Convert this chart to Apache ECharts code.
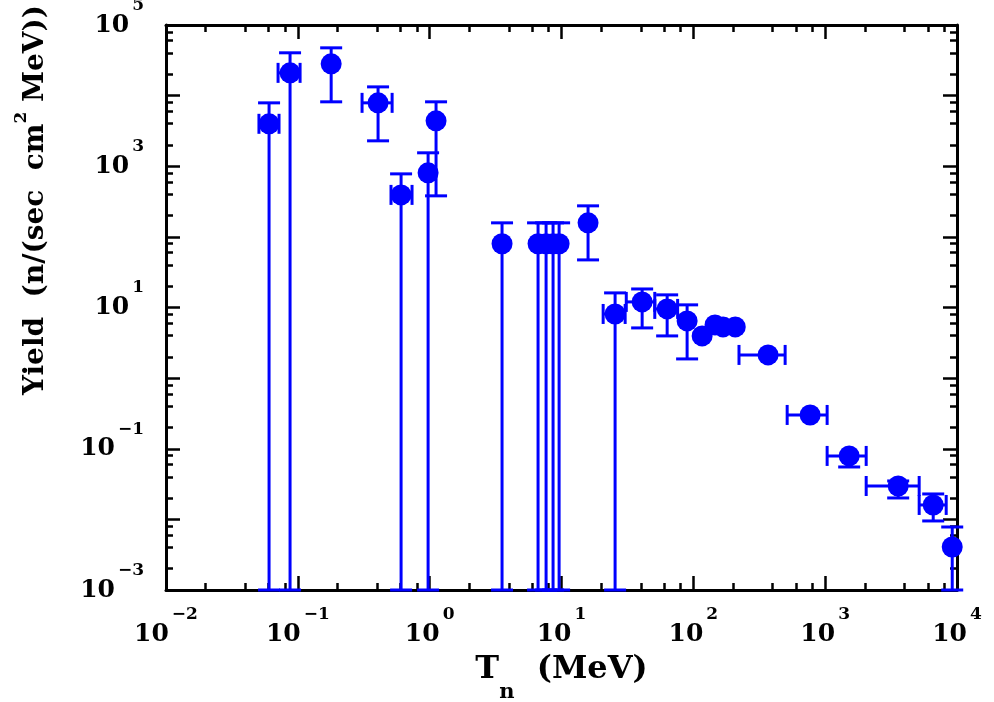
<!DOCTYPE html>
<html>
<head>
<meta charset="utf-8">
<title>Neutron yield</title>
<script src="https://cdn.jsdelivr.net/npm/echarts@6/dist/echarts.min.js"></script>
<style>
  html, body { margin: 0; padding: 0; background: #fff; }
  #main { width: 994px; height: 702px; }
</style>
</head>
<body>
<div id="main"></div>
<script>
// neutron energy (MeV) and yield
var energy   = [0.0605, 0.0873, 0.179, 0.406, 0.607, 0.973, 1.118, 3.54, 6.64, 7.64, 8.63, 9.59, 15.9,
                25.5, 40.9, 63.3, 89.7, 116.6, 146, 168, 208, 369, 769, 1521, 3580, 6600, 9200];
var yieldVal = [3990, 21000, 28200, 7900, 393, 807, 4400, 80, 80, 80, 80, 80, 158,
                8.1, 12.0, 9.55, 6.46, 3.96, 5.67, 5.31, 5.31, 2.13, 0.301, 0.0791, 0.0297, 0.016, 0.00406];
// error bars, null = hidden under the marker, 0.001 = runs off the bottom
var yLow  = [0.001, 0.001, 8170, 2290, 0.001, 0.001, 381, 0.001, 0.001, 0.001, 0.001, 0.001, 47.2,
             0.001, 5.14, 3.96, 1.87, null, null, null, null, null, null, 0.0552, 0.0201, 0.0095, 0.001];
var yHigh = [7900, 40400, 47500, 13300, 780, 1550, 8170, 158, 158, 158, 158, 158, 275,
             16.1, 18.3, 15.1, 10.9, null, null, null, null, null, null, null, 0.035, 0.0229, 0.0078];
var xLow  = [0.0507, 0.0708, null, 0.307, 0.509, null, null, null, null, null, null, null, null,
             20.7, 31, 51, null, null, null, null, null, 222, 515, 1035, 2047, 5165, null];
var xHigh = [0.072, 0.104, null, 0.519, 0.735, null, null, null, null, null, null, null, null,
             30.4, 51, 76, null, null, null, null, null, 497, 1035, 2047, 5165, 8280, null];

// axis ticks
var xMajor  = [0.01, 0.1, 1, 10, 100, 1000, 10000];
var yMajor  = [1e-3, 1e-2, 1e-1, 1, 10, 100, 1e3, 1e4, 1e5];
var yLabels = [1e-3, 1e-1, 10, 1e3, 1e5];
var minorSteps = [2, 4, 6, 8];

function minorsOf(majors) {
    var out = [];
    for (var i = 0; i < majors.length - 1; i++)
        for (var j = 0; j < minorSteps.length; j++) out.push(majors[i] * minorSteps[j]);
    return out;
}
var xMinor = minorsOf(xMajor);
var yMinor = minorsOf(yMajor);

var FONT = 'DejaVu Serif';
var BLUE = '#0000ff';

var powRich = {
    b: { fontFamily: FONT, fontWeight: 'bold', fontSize: 25, lineHeight: 56, color: '#000' },
    s: { fontFamily: FONT, fontWeight: 'bold', fontSize: 17, lineHeight: 16, verticalAlign: 'top',
         padding: [0, 0, 0, 3], color: '#000' }
};
function powLabel(v) {
    var e = Math.round(Math.log(v) / Math.LN10);
    return '{b|10}{s|' + (e < 0 ? '\u2212' + (-e) : e) + '}';
}

function frameAxis(pos, lo, hi, majors, labels, withLine, tickLen, extra) {
    var a = {
        type: 'log', logBase: 10, position: pos, min: lo, max: hi,
        axisLine: { show: withLine, onZero: false, lineStyle: { color: '#000', width: 3 } },
        axisTick: { show: true, inside: true, length: tickLen, customValues: majors,
                    lineStyle: { color: '#000', width: 2.5 } },
        axisLabel: labels ? { show: true, customValues: labels, formatter: powLabel, rich: powRich,
                              margin: (pos == 'left' ? 22 : 16) }
                          : { show: false },
        splitLine: { show: false },
        minorTick: { show: false }
    };
    for (var k in extra) a[k] = extra[k];
    return a;
}

var xName = '{t|T}{sub|n}{t|  (MeV)}';

var chart = echarts.init(document.getElementById('main'));
var option = {
    backgroundColor: '#fff',
    animation: false,
    grid: { left: 166, right: 37, top: 25, bottom: 112, outerBoundsMode: 'none', containLabel: false },
    xAxis: [
        frameAxis('bottom', 0.01, 1e4, xMajor, xMajor, true, 14, {
            name: xName, nameLocation: 'middle', nameGap: 64,
            nameTextStyle: { rich: {
                t: { fontFamily: FONT, fontWeight: 'bold', fontSize: 32, lineHeight: 40, verticalAlign: 'top', color: '#000' },
                sub: { fontFamily: FONT, fontWeight: 'bold', fontSize: 21, lineHeight: 78, color: '#000' }
            } }
        }),
        frameAxis('top', 0.01, 1e4, xMajor, null, true, 14, {}),
        frameAxis('bottom', 0.01, 1e4, xMinor, null, false, 7, {}),
        frameAxis('top', 0.01, 1e4, xMinor, null, false, 7, {})
    ],
    yAxis: [
        frameAxis('left', 1e-3, 1e5, yMajor, yLabels, true, 14, {}),
        frameAxis('right', 1e-3, 1e5, yMajor, null, true, 14, {}),
        frameAxis('left', 1e-3, 1e5, yMinor, null, false, 7, {}),
        frameAxis('right', 1e-3, 1e5, yMinor, null, false, 7, {})
    ],
    graphic: [{
        type: 'text', x: 36, y: 200, rotation: Math.PI / 2,
        style: {
            text: '{a|Yield  (n/(sec  cm}{s|2}{a| MeV))}',
            align: 'center', verticalAlign: 'middle',
            rich: {
                a: { fontFamily: FONT, fontWeight: 'bold', fontSize: 28, lineHeight: 46, fill: '#000' },
                s: { fontFamily: FONT, fontWeight: 'bold', fontSize: 17, lineHeight: 16, verticalAlign: 'top', fill: '#000' }
            }
        }
    }],
    series: [
        {
            // error bars
            type: 'custom',
            xAxisIndex: 0, yAxisIndex: 0,
            clip: false, z: 2,
            data: energy.map(function (e, i) { return [e, yieldVal[i]]; }),
            encode: { x: 0, y: 1 },
            renderItem: function (params, api) {
                var i = params.dataIndex;
                var c = api.coord([energy[i], yieldVal[i]]);
                var st = { stroke: BLUE, lineWidth: 3 };
                var kids = [];
                if (yLow[i] != null || yHigh[i] != null) {
                    var lo = api.coord([energy[i], yLow[i] != null ? yLow[i] : yieldVal[i]]);
                    var hi = api.coord([energy[i], yHigh[i] != null ? yHigh[i] : yieldVal[i]]);
                    kids.push({ type: 'line', shape: { x1: c[0], y1: lo[1], x2: c[0], y2: hi[1] }, style: st });
                    if (yLow[i] != null)
                        kids.push({ type: 'line', shape: { x1: c[0] - 11, y1: lo[1], x2: c[0] + 11, y2: lo[1] }, style: st });
                    if (yHigh[i] != null)
                        kids.push({ type: 'line', shape: { x1: c[0] - 11, y1: hi[1], x2: c[0] + 11, y2: hi[1] }, style: st });
                }
                if (xLow[i] != null) {
                    var l = api.coord([xLow[i], yieldVal[i]]);
                    var r = api.coord([xHigh[i], yieldVal[i]]);
                    kids.push({ type: 'line', shape: { x1: l[0], y1: c[1], x2: r[0], y2: c[1] }, style: st });
                    kids.push({ type: 'line', shape: { x1: l[0], y1: c[1] - 10, x2: l[0], y2: c[1] + 10 }, style: st });
                    kids.push({ type: 'line', shape: { x1: r[0], y1: c[1] - 10, x2: r[0], y2: c[1] + 10 }, style: st });
                }
                return { type: 'group', children: kids };
            }
        },
        {
            type: 'scatter',
            xAxisIndex: 0, yAxisIndex: 0,
            z: 3,
            symbol: 'circle', symbolSize: 21,
            itemStyle: { color: BLUE, opacity: 1 },
            data: energy.map(function (e, i) { return [e, yieldVal[i]]; })
        }
    ]
};
chart.setOption(option);
</script>
</body>
</html>
